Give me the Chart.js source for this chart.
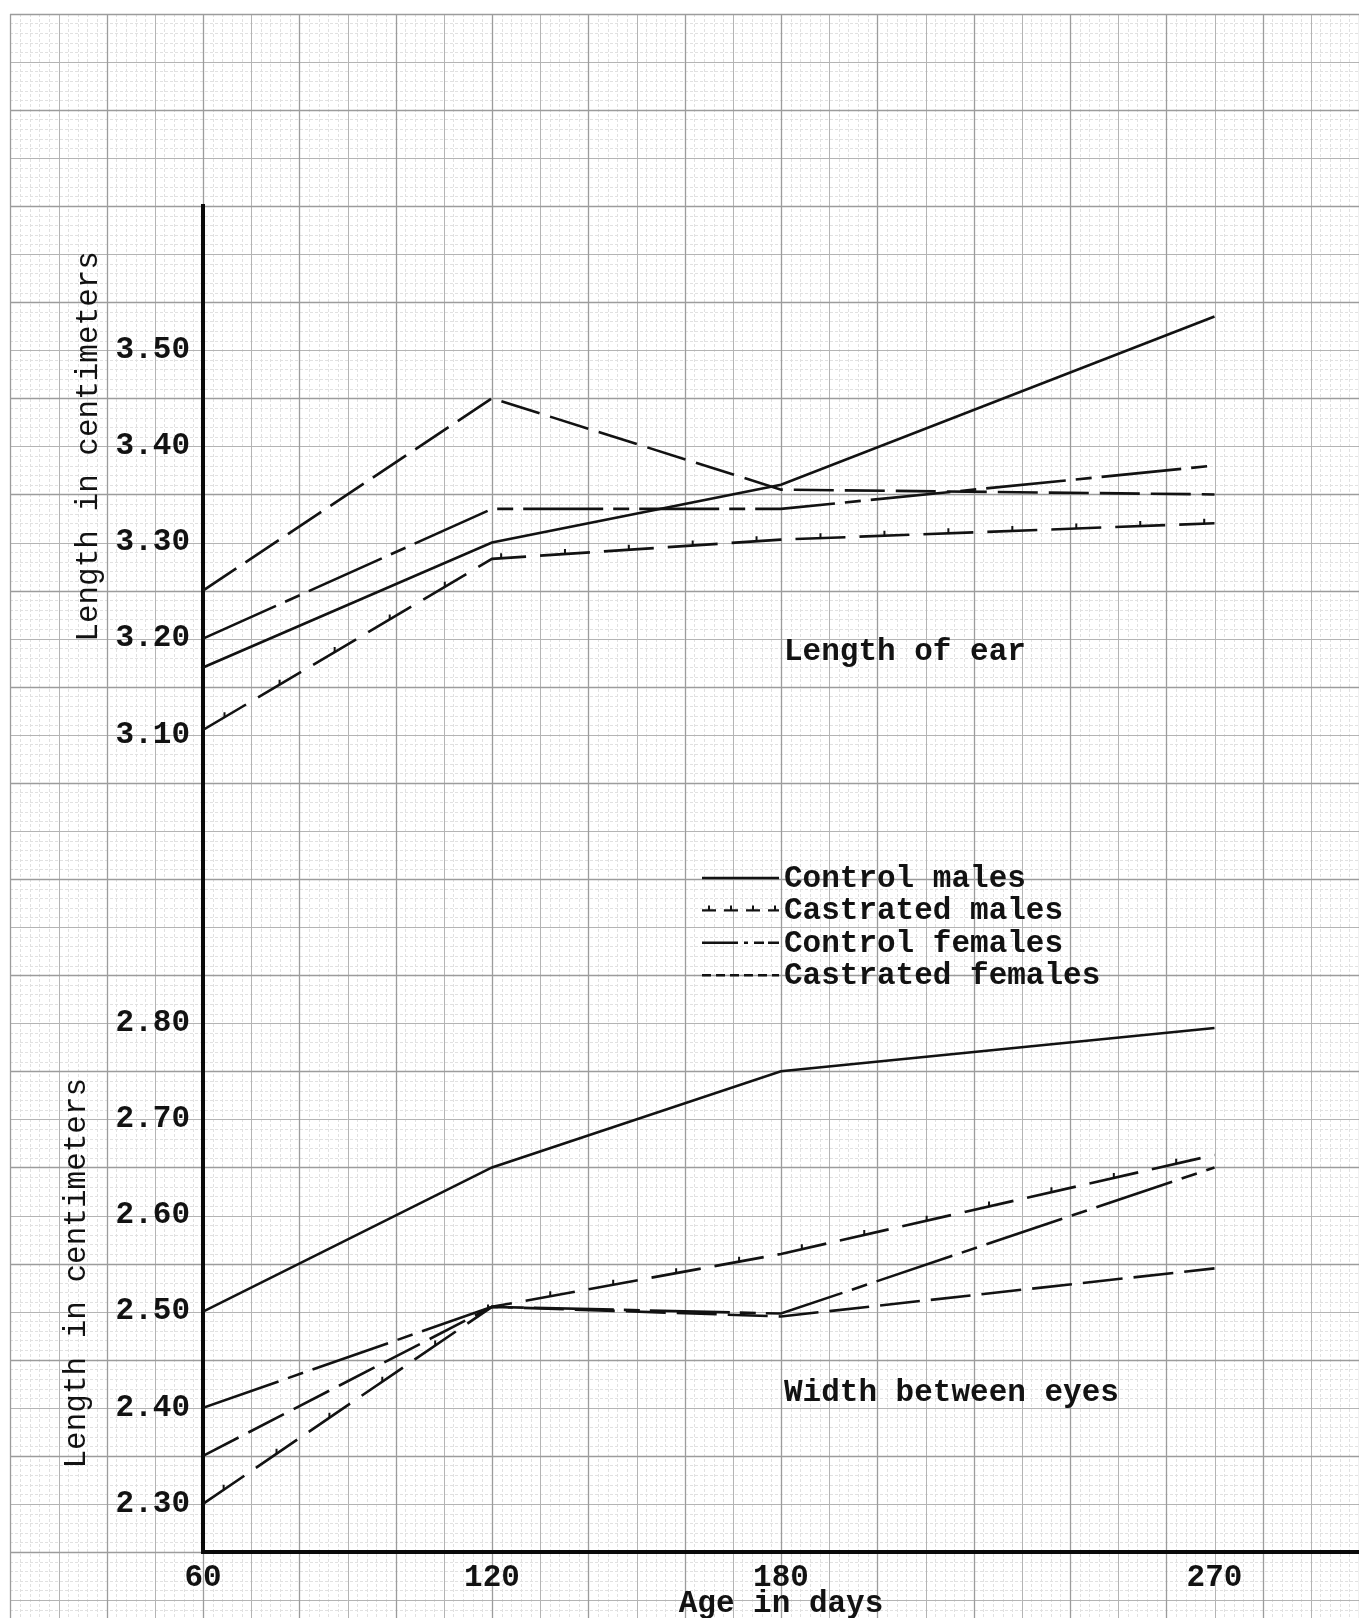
<!DOCTYPE html>
<html>
<head>
<meta charset="utf-8">
<title>Length of ear / Width between eyes</title>
<script src="https://cdn.jsdelivr.net/npm/chart.js@4.4.1/dist/chart.umd.min.js"></script>
<style>
  html, body { margin: 0; padding: 0; background: #fff; }
</style>
</head>
<body>
<canvas id="chart" width="1359" height="1618"></canvas>
<script>
// ages at which the animals were measured
const days = [60, 120, 180, 270];
const groups = ['Control males', 'Castrated males', 'Control females', 'Castrated females'];

// length of ear (cm)
const earControlMales = [3.17, 3.30, 3.36, 3.535];
const earCastratedMales = [3.105, 3.283, 3.303, 3.32];
const earControlFemales = [3.20, 3.335, 3.335, 3.38];
const earCastratedFemales = [3.25, 3.45, 3.355, 3.35];

// width between eyes (cm)
const widthControlMales = [2.50, 2.65, 2.75, 2.795];
const widthCastratedMales = [2.30, 2.505, 2.56, 2.663];
const widthControlFemales = [2.40, 2.505, 2.498, 2.65];
const widthCastratedFemales = [2.35, 2.505, 2.495, 2.545];

const xTickValues = [60, 120, 180, 270];
const yTickValues = [2.30, 2.40, 2.50, 2.60, 2.70, 2.80, 3.10, 3.20, 3.30, 3.40, 3.50];

const panelNotes = ['Length of ear', 'Width between eyes'];
const yTitle = 'Length in centimeters';

const INK = '#121212';
const TYPE = "'Liberation Mono', 'Courier New', monospace";

// line look for each group
const seriesStyle = {
  'Control males':     { dash: [], legendDash: [] },
  'Castrated males':   { dash: [50, 14], legendDash: [14, 8], ticked: true },
  'Control females':   { dash: [80, 10, 16, 10], legendDash: [36, 6, 4, 6, 10, 4] },
  'Castrated females': { dash: [40, 11], legendDash: [9, 5] }
};

const earSeries = [earControlMales, earCastratedMales, earControlFemales, earCastratedFemales];
const widthSeries = [widthControlMales, widthCastratedMales, widthControlFemales, widthCastratedFemales];

function makeDataset(name, values) {
  const st = seriesStyle[name];
  return {
    label: name,
    data: days.map((d, i) => ({ x: d, y: values[i] })),
    borderColor: INK,
    borderWidth: 2.6,
    borderDash: st.dash,
    borderCapStyle: 'butt',
    pointRadius: 0,
    tension: 0,
    fill: false,
    ticked: !!st.ticked
  };
}

const datasets = [];
groups.forEach((g, i) => datasets.push(makeDataset(g, earSeries[i])));
groups.forEach((g, i) => datasets.push(makeDataset(g, widthSeries[i])));

// graph paper behind everything
const paperGrid = {
  id: 'paperGrid',
  beforeDraw(chart) {
    const { ctx, scales: { x, y } } = chart;
    const left = Math.round(x.getPixelForValue(20));
    const top = Math.round(y.getPixelForValue(3.85));
    const right = chart.width, bottom = chart.height;
    ctx.save();
    ctx.fillStyle = '#ffffff';
    ctx.fillRect(0, 0, chart.width, chart.height);

    const kinds = [
      { color: '#e1e1e1', width: 1, dash: [3, 2] },
      { color: '#b4b4b4', width: 1, dash: [] },
      { color: '#9c9c9c', width: 1.3, dash: [] }
    ];
    for (let pass = 0; pass < 3; pass++) {
      ctx.strokeStyle = kinds[pass].color;
      ctx.lineWidth = kinds[pass].width;
      ctx.setLineDash(kinds[pass].dash);
      ctx.beginPath();
      for (let k = 0; ; k++) {
        const d = 20 + 2 * k;
        const px = Math.round(x.getPixelForValue(d)) + 0.5;
        if (px > right + 1) break;
        const kind = d % 20 === 0 ? 2 : (d % 10 === 0 ? 1 : 0);
        if (kind !== pass) continue;
        ctx.moveTo(px, top);
        ctx.lineTo(px, bottom);
      }
      for (let k = 0; ; k++) {
        const py = Math.round(y.getPixelForValue(3.85 - k / 100)) + 0.5;
        if (py > bottom + 1) break;
        const kind = k % 10 === 0 ? 2 : (k % 5 === 0 ? 1 : 0);
        if (kind !== pass) continue;
        ctx.moveTo(left, py);
        ctx.lineTo(right, py);
      }
      ctx.stroke();
    }
    ctx.restore();
  }
};

// small ticks riding on the castrated-male lines
function tickedPath(ctx, pts, start, step, h) {
  let carry = start;
  for (let k = 0; k < pts.length - 1; k++) {
    const a = pts[k], b = pts[k + 1];
    const len = Math.hypot(b.x - a.x, b.y - a.y);
    let s = carry;
    while (s < len) {
      const t = s / len;
      const px = a.x + (b.x - a.x) * t;
      const py = a.y + (b.y - a.y) * t;
      ctx.moveTo(px, py);
      ctx.lineTo(px, py - h);
      s += step;
    }
    carry = s - len;
  }
}

const lineTicks = {
  id: 'lineTicks',
  afterDatasetsDraw(chart) {
    const ctx = chart.ctx;
    ctx.save();
    ctx.strokeStyle = INK;
    ctx.lineWidth = 2;
    ctx.beginPath();
    chart.data.datasets.forEach((ds, i) => {
      if (!ds.ticked) return;
      const pts = chart.getDatasetMeta(i).data.map(p => ({ x: p.x, y: p.y }));
      tickedPath(ctx, pts, 25, 64, 5);
    });
    ctx.stroke();
    ctx.restore();
  }
};

// typed labels: panel names, y titles and the key
const typedText = {
  id: 'typedText',
  afterDraw(chart) {
    const { ctx, scales: { x, y } } = chart;
    ctx.save();
    ctx.fillStyle = INK;
    ctx.textBaseline = 'middle';

    ctx.font = 'bold 31px ' + TYPE;
    ctx.textAlign = 'left';
    ctx.fillText(panelNotes[0], x.getPixelForValue(180) + 3, y.getPixelForValue(3.186));
    ctx.fillText(panelNotes[1], x.getPixelForValue(180) + 3, y.getPixelForValue(2.415));

    ctx.font = '31px ' + TYPE;
    ctx.textAlign = 'center';
    [[89, 3.40], [77, 2.54]].forEach(([px, v]) => {
      ctx.save();
      ctx.translate(px, y.getPixelForValue(v));
      ctx.rotate(-Math.PI / 2);
      ctx.fillText(yTitle, 0, 0);
      ctx.restore();
    });

    // key
    const keyX0 = 702, keyX1 = 779, textX = 784, rowTop = 878, rowGap = 32.4;
    groups.forEach((g, i) => {
      const st = seriesStyle[g];
      const ry = rowTop + i * rowGap;
      ctx.save();
      ctx.strokeStyle = INK;
      ctx.lineWidth = 2.4;
      ctx.setLineDash(st.legendDash);
      ctx.beginPath();
      ctx.moveTo(keyX0, ry);
      ctx.lineTo(keyX1, ry);
      ctx.stroke();
      if (st.ticked) {
        ctx.setLineDash([]);
        ctx.lineWidth = 2;
        ctx.beginPath();
        tickedPath(ctx, [{ x: keyX0, y: ry }, { x: keyX1, y: ry }], 7, 22, 5);
        ctx.stroke();
      }
      ctx.restore();
      ctx.font = 'bold 31px ' + TYPE;
      ctx.textAlign = 'left';
      ctx.fillText(g, textX, ry + 1);
    });
    ctx.restore();
  }
};

new Chart(document.getElementById('chart'), {
  type: 'line',
  data: { datasets },
  plugins: [paperGrid, lineTicks, typedText],
  options: {
    responsive: false,
    devicePixelRatio: 1,
    animation: false,
    layout: { padding: { top: 206, left: 0, right: 0, bottom: 0 } },
    plugins: { legend: { display: false }, tooltip: { enabled: false } },
    scales: {
      x: {
        type: 'linear',
        min: 60,
        max: 300,
        afterBuildTicks: s => { s.ticks = xTickValues.map(v => ({ value: v })); },
        afterFit: s => { s.height = 66; },
        grid: { display: false, drawTicks: false },
        border: { display: true, width: 4, color: '#0b0b0b' },
        ticks: {
          autoSkip: false,
          maxRotation: 0,
          padding: 8,
          color: INK,
          font: { family: TYPE, size: 31, weight: 'bold' },
          callback: v => String(v)
        },
        title: {
          display: true,
          text: 'Age in days',
          color: INK,
          font: { family: TYPE, size: 31, weight: 'bold', lineHeight: 1 },
          padding: { top: 0, bottom: -2 }
        }
      },
      y: {
        type: 'linear',
        min: 2.25,
        max: 3.65,
        afterBuildTicks: s => { s.ticks = yTickValues.map(v => ({ value: v })); },
        afterFit: s => { s.width = 203; },
        grid: { display: false, drawTicks: false },
        border: { display: true, width: 4, color: '#0b0b0b' },
        ticks: {
          autoSkip: false,
          padding: 13,
          color: INK,
          font: { family: TYPE, size: 31, weight: 'bold' },
          callback: v => v.toFixed(2)
        }
      }
    }
  }
});
</script>
</body>
</html>
